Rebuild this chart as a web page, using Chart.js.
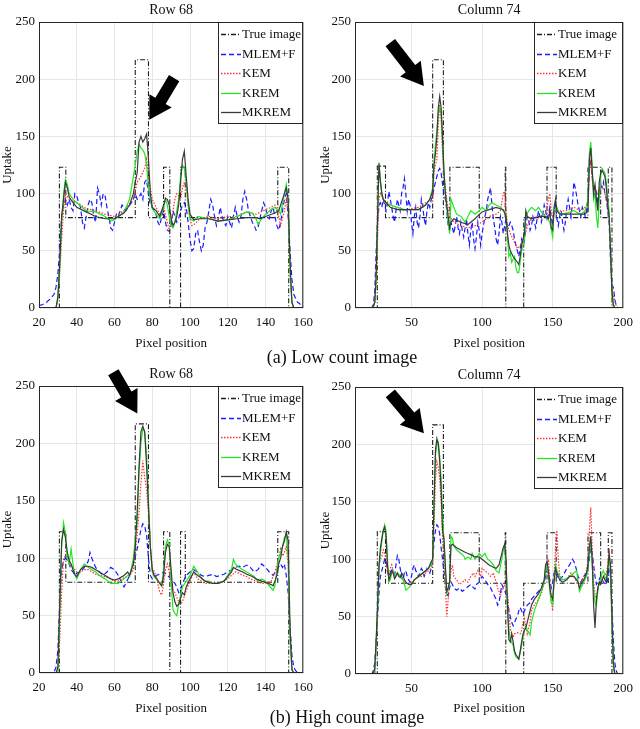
<!DOCTYPE html>
<html>
<head>
<meta charset="utf-8">
<script src="https://cdn.jsdelivr.net/npm/chart.js@4.4.1/dist/chart.umd.min.js"></script>
<style>
  html, body { margin: 0; padding: 0; background: #fff; }
  body { position: relative; width: 640px; height: 729px; overflow: hidden; }
  canvas { position: absolute; }
  .cap { position: absolute; font-family: "Liberation Serif", serif; font-size: 18px; color: #111;
         white-space: nowrap; transform: translateX(-50%); z-index: 2; line-height: 20px; }
</style>
</head>
<body>
<canvas id="c1" width="320" height="350" style="left:0;top:0"></canvas>
<canvas id="c2" width="322" height="350" style="left:318px;top:0"></canvas>
<canvas id="c3" width="320" height="360" style="left:0;top:360px"></canvas>
<canvas id="c4" width="322" height="360" style="left:318px;top:360px"></canvas>
<div class="cap" style="left:342px;top:347px">(a) Low count image</div>
<div class="cap" style="left:347px;top:707px">(b) High count image</div>

<script>
// series names and tick labels
const seriesNames = ["True image", "MLEM+F", "KEM", "KREM", "MKREM"];
const rowTicks = [20, 40, 60, 80, 100, 120, 140, 160];
const colTicks = [50, 100, 150, 200];
const uptakeTicks = [0, 50, 100, 150, 200, 250];

// ground truth profiles, [pixel, uptake]
const rowTrue = [[20,0],[30.8,0],[30.8,123],[34.2,123],[34.2,79],[71,79],[71,217],[78,217],[78,79],[86,79],[86,123],[89.3,123],[89.3,0],[95,0],[95,123],[97.5,123],[97.5,79],[146.5,79],[146.5,123],[152.3,123],[152.3,0],[160,0]];
const colTrue = [[10,0],[25.8,0],[25.8,124],[31.6,124],[31.6,79],[65,79],[65,217],[72.6,217],[72.6,79],[77.2,79],[77.2,123],[98,123],[98,79],[116.4,79],[116.4,123],[116.8,123],[116.8,0],[129.5,0],[129.5,79],[146,79],[146,123],[152.5,123],[152.5,79],[175,79],[175,123],[184,123],[184,79],[189.4,79],[189.4,123],[192,123],[192,0],[200,0]];

// (a) low count, row 68
const lowRowMLEM = [[20,2],[22,3],[24,5],[26,8],[28,12],[29,18],[30,30],[31,50],[32,80],[33,90],[34,95],[35,90],[36,95],[37,88],[38,85],[39,100],[40,98],[41,92],[42,88],[43,75],[44,70],[45,80],[46,90],[47,95],[48,92],[49,80],[50,75],[51,105],[52,100],[53,90],[54,100],[55,98],[56,88],[57,80],[58,70],[59,68],[60,75],[61,82],[62,80],[63,85],[64,90],[65,88],[66,85],[68,90],[69,92],[70,95],[71,100],[72,95],[73,97],[74,100],[75,95],[76,110],[77,112],[78,100],[79,90],[80,88],[81,85],[82,82],[83,75],[84,72],[85,80],[86,85],[87,75],[88,68],[89,67],[90,72],[91,85],[92,80],[93,75],[94,78],[95,85],[96,90],[97,92],[98,88],[99,75],[100,60],[101,50],[102,52],[103,65],[104,68],[105,58],[106,50],[107,55],[108,70],[109,75],[110,85],[111,95],[112,90],[113,80],[114,72],[115,78],[116,88],[117,80],[118,75],[119,72],[120,80],[121,75],[122,70],[123,80],[124,88],[125,80],[126,75],[127,80],[128,95],[129,102],[130,95],[131,85],[132,80],[133,75],[134,72],[135,68],[136,70],[137,78],[138,85],[139,92],[140,88],[141,80],[142,78],[143,85],[144,88],[145,80],[146,72],[147,68],[148,75],[149,85],[150,95],[151,100],[152,80],[153,50],[154,25],[155,12],[156,8],[157,5],[158,4],[159,2],[160,1]];
const lowRowKEM = [[20,0],[29,0],[30,8],[31,30],[32,60],[33,85],[34,100],[35,98],[36,95],[40,92],[45,87],[50,85],[55,82],[60,80],[65,85],[70,95],[72,110],[74,115],[76,122],[77,130],[78,115],[79,105],[80,95],[82,88],[84,82],[86,88],[88,75],[89,68],[90,75],[92,95],[93,100],[94,98],[95,95],[96,105],[97,110],[98,105],[99,90],[100,78],[101,72],[103,74],[105,78],[110,80],[115,78],[120,80],[125,80],[130,84],[135,82],[140,86],[143,88],[145,90],[147,80],[148,72],[150,85],[151,95],[152,85],[153,30],[154,5],[155,0],[160,0]];
const lowRowKREM = [[20,0],[29,0],[30,8],[31,35],[32,75],[33,100],[34,112],[35,108],[36,100],[38,95],[40,92],[45,85],[50,84],[55,80],[58,76],[60,77],[65,84],[68,95],[70,115],[71,125],[72,137],[73,143],[74,140],[75,138],[76,135],[77,125],[78,105],[79,95],[80,87],[82,82],[84,78],[86,88],[87,95],[88,90],[89,80],[90,72],[91,70],[92,75],[94,95],[95,115],[96,125],[97,122],[98,110],[99,90],[100,78],[102,76],[104,80],[110,78],[115,76],[120,77],[125,80],[130,84],[133,83],[135,78],[136,73],[138,78],[140,82],[143,86],[145,88],[147,85],[148,82],[150,100],[151,108],[152,95],[153,30],[154,5],[155,0],[160,0]];
const lowRowMKREM = [[20,0],[29,0],[30,10],[31,40],[32,80],[33,95],[34,110],[35,105],[36,97],[38,92],[40,88],[45,84],[50,80],[55,78],[60,78],[65,83],[68,90],[70,100],[71,110],[72,118],[73,145],[74,150],[75,145],[76,148],[77,152],[78,130],[79,100],[80,88],[82,85],[84,80],[86,90],[87,96],[88,95],[89,90],[90,78],[91,72],[92,75],[93,80],[94,90],[95,110],[96,130],[97,137],[98,115],[99,95],[100,82],[102,77],[105,78],[110,78],[115,76],[120,77],[125,78],[130,79],[135,79],[137,78],[140,80],[145,83],[147,85],[149,95],[150,100],[151,105],[152,95],[153,40],[154,5],[155,0],[160,0]];

// (a) low count, column 74
const lowColMLEM = [[10,0],[22,0],[23,3],[24,15],[25,50],[26,75],[27,90],[28,92],[29,88],[30,95],[31,90],[32,85],[33,92],[34,102],[35,95],[36,88],[37,80],[38,75],[39,85],[40,95],[41,90],[42,85],[43,100],[44,105],[45,113],[46,100],[47,85],[48,95],[49,90],[50,75],[51,65],[52,80],[53,88],[54,75],[55,70],[56,80],[57,95],[58,88],[59,78],[60,72],[61,85],[62,92],[63,88],[64,95],[65,98],[66,105],[67,110],[68,115],[69,120],[70,122],[71,118],[72,108],[73,100],[74,95],[75,85],[76,72],[77,68],[78,75],[79,70],[80,65],[81,72],[82,80],[83,70],[84,65],[85,75],[86,68],[87,62],[88,70],[89,78],[90,65],[91,55],[92,68],[93,75],[94,60],[95,52],[96,62],[97,75],[98,68],[99,55],[100,65],[101,72],[102,80],[103,85],[104,95],[105,100],[106,105],[107,90],[108,78],[109,70],[110,60],[111,55],[112,65],[113,80],[114,75],[115,65],[116,72],[117,78],[118,70],[119,72],[120,75],[121,72],[122,68],[123,60],[124,55],[125,50],[126,45],[127,52],[128,60],[129,55],[130,58],[131,72],[132,80],[133,78],[134,68],[135,72],[136,80],[137,75],[138,70],[139,78],[140,85],[141,80],[142,75],[143,82],[144,90],[145,85],[146,78],[147,82],[148,88],[149,80],[150,72],[151,85],[152,90],[153,78],[154,72],[155,80],[156,85],[157,75],[158,68],[159,75],[160,88],[161,95],[162,88],[163,80],[164,92],[165,110],[166,105],[167,98],[168,90],[169,85],[170,80],[171,88],[172,85],[173,80],[174,85],[175,95],[176,125],[177,130],[178,115],[179,105],[180,95],[181,100],[182,92],[183,100],[184,108],[185,105],[186,110],[187,100],[188,95],[189,85],[190,75],[191,40],[192,20],[193,18],[194,8],[195,2],[196,0],[200,0]];
const lowColKEM = [[10,0],[23,0],[24,5],[25,20],[26,60],[27,95],[28,100],[30,95],[35,90],[40,88],[45,85],[50,87],[55,88],[60,92],[65,95],[66,120],[68,130],[69,160],[70,178],[71,165],[72,135],[73,115],[75,95],[77,80],[80,75],[85,72],[90,70],[95,72],[100,75],[105,80],[110,82],[113,85],[115,100],[116,102],[117,85],[118,72],[120,65],[122,60],[125,52],[127,55],[130,62],[133,75],[135,78],[140,80],[145,82],[147,95],[148,100],[149,85],[150,80],[152,85],[155,85],[160,85],[165,88],[170,85],[175,90],[176,120],[177,128],[178,112],[180,105],[182,100],[184,108],[186,105],[188,95],[190,80],[191,50],[192,20],[193,10],[195,2],[196,0],[200,0]];
const lowColKREM = [[10,0],[23,0],[24,5],[25,25],[26,80],[27,125],[28,112],[29,100],[30,95],[32,92],[35,90],[40,88],[45,86],[50,86],[55,86],[60,90],[63,95],[65,105],[66,130],[68,155],[69,170],[70,175],[71,170],[72,145],[73,120],[74,100],[75,88],[76,75],[77,65],[78,95],[80,88],[82,82],[85,80],[88,75],[90,80],[92,85],[95,82],[98,85],[100,88],[103,85],[105,90],[107,92],[110,90],[113,88],[115,85],[117,82],[118,62],[119,45],[120,48],[121,40],[123,45],[124,35],[125,31],[126,31],[127,40],[128,50],[130,60],[131,80],[133,85],[135,88],[138,85],[140,88],[143,82],[145,80],[148,75],[150,62],[151,85],[153,88],[155,82],[160,83],[165,85],[170,82],[173,85],[175,95],[176,135],[177,145],[178,125],[179,95],[180,100],[181,80],[182,70],[183,95],[184,115],[185,122],[186,120],[187,118],[188,110],[189,95],[190,85],[191,50],[192,10],[193,0],[200,0]];
const lowColMKREM = [[10,0],[22,0],[23,2],[24,5],[25,30],[26,80],[27,127],[28,110],[29,100],[30,95],[32,92],[35,88],[40,86],[45,86],[50,86],[55,86],[60,90],[63,95],[65,102],[66,125],[67,135],[68,150],[69,175],[70,185],[71,175],[72,150],[73,120],[74,100],[75,90],[76,80],[77,70],[78,75],[80,78],[85,75],[90,73],[95,78],[100,84],[105,86],[110,88],[115,86],[117,80],[118,65],[119,55],[120,50],[122,45],[125,40],[126,38],[127,45],[128,55],[130,65],[131,85],[132,80],[135,78],[140,80],[145,80],[147,78],[148,85],[149,70],[150,68],[151,88],[152,95],[153,85],[155,82],[160,82],[165,82],[170,82],[173,82],[175,85],[176,130],[177,140],[178,120],[179,100],[180,108],[181,95],[182,85],[183,110],[184,118],[185,120],[186,118],[187,115],[188,105],[189,90],[190,80],[191,50],[192,15],[193,3],[194,0],[200,0]];

// (b) high count, row 68
const highRowMLEM = [[20,0],[27,0],[28,1],[29,5],[30,20],[31,60],[32,90],[33,98],[34,100],[35,98],[36,95],[37,90],[38,88],[39,85],[40,87],[42,88],[44,92],[46,97],[47,105],[48,100],[50,92],[52,88],[54,85],[56,88],[58,92],[60,90],[62,85],[64,78],[65,75],[66,78],[68,85],[70,95],[72,108],[74,125],[75,130],[76,128],[77,120],[78,100],[79,85],[80,82],[82,85],[84,86],[86,88],[88,85],[90,82],[92,78],[93,75],[94,70],[95,72],[96,78],[98,85],[100,88],[102,90],[104,88],[106,85],[108,84],[110,85],[112,86],[114,84],[116,85],[118,86],[120,88],[122,90],[124,92],[126,93],[128,92],[130,94],[132,92],[134,88],[136,90],[138,95],[140,92],[142,88],[144,85],[146,90],[148,95],[149,92],[150,95],[151,85],[152,70],[153,40],[154,15],[155,5],[156,2],[157,0],[160,0]];
const highRowKEM = [[20,0],[30,0],[31,30],[32,70],[33,100],[34,102],[35,100],[36,95],[38,92],[40,88],[42,88],[44,90],[46,90],[48,88],[50,86],[52,85],[55,84],[58,82],[60,80],[62,80],[65,83],[68,85],[70,90],[71,105],[72,120],[73,140],[74,165],[75,185],[76,170],[77,160],[78,140],[79,110],[80,92],[82,85],[84,70],[85,68],[86,78],[87,90],[88,95],[89,88],[90,78],[91,72],[92,70],[93,66],[94,62],[95,60],[96,62],[98,72],[100,80],[102,88],[104,82],[106,80],[108,78],[110,78],[115,78],[120,82],[122,85],[124,88],[126,87],[128,85],[130,84],[132,82],[135,80],[138,78],[140,78],[143,80],[145,88],[147,100],[148,108],[149,102],[150,105],[151,110],[152,95],[153,30],[154,3],[155,0],[160,0]];
const highRowKREM = [[20,0],[30,0],[31,50],[32,110],[33,131],[34,122],[35,100],[36,95],[37,108],[38,95],[39,85],[40,82],[42,90],[44,95],[46,92],[48,90],[50,88],[52,85],[55,82],[58,78],[60,78],[62,78],[65,82],[67,85],[68,84],[70,100],[71,118],[72,130],[73,175],[74,200],[75,213],[76,210],[77,190],[78,150],[79,110],[80,88],[81,84],[82,82],[84,78],[85,76],[86,90],[87,110],[88,116],[89,112],[90,80],[91,55],[92,52],[93,50],[94,60],[95,68],[96,75],[98,80],[100,85],[102,93],[104,88],[106,82],[108,80],[110,80],[112,78],[115,78],[118,80],[120,85],[122,90],[123,99],[124,95],[126,92],[128,90],[130,88],[132,86],[134,84],[136,80],[138,82],[140,80],[142,76],[144,72],[145,76],[146,90],[147,100],[148,105],[149,110],[150,118],[151,120],[152,100],[153,30],[154,3],[155,0],[160,0]];
const highRowMKREM = [[20,0],[29,0],[30,5],[31,60],[32,115],[33,125],[34,118],[35,105],[36,98],[37,95],[38,90],[39,86],[40,84],[42,90],[44,93],[46,93],[48,92],[50,90],[52,88],[55,85],[58,82],[60,81],[62,82],[65,85],[67,88],[68,85],[70,95],[71,110],[72,140],[73,180],[74,210],[75,215],[76,210],[77,180],[78,145],[79,110],[80,90],[81,85],[82,83],[84,78],[85,76],[86,85],[87,105],[88,112],[89,110],[90,90],[91,70],[92,62],[93,58],[94,60],[95,65],[96,70],[97,68],[98,75],[100,82],[102,88],[104,85],[106,83],[108,80],[110,79],[112,78],[115,78],[118,80],[120,84],[122,88],[123,92],[125,90],[128,88],[130,86],[133,84],[135,82],[138,80],[140,79],[143,77],[144,76],[145,80],[146,85],[147,95],[148,100],[149,110],[150,115],[151,123],[152,115],[153,40],[154,3],[155,0],[160,0]];

// (b) high count, column 74
const highColMLEM = [[10,0],[22,0],[23,3],[24,10],[25,30],[26,50],[27,70],[28,85],[29,90],[30,95],[31,100],[32,98],[33,90],[34,85],[35,88],[36,92],[37,88],[38,85],[39,95],[40,103],[41,100],[42,92],[43,85],[44,82],[45,88],[46,90],[47,85],[48,82],[49,80],[50,85],[51,92],[52,95],[53,90],[54,88],[55,85],[56,88],[57,92],[58,90],[59,85],[60,88],[61,92],[62,90],[63,88],[64,92],[65,100],[66,115],[67,125],[68,130],[69,128],[70,122],[71,110],[72,100],[73,90],[74,78],[75,70],[76,68],[77,75],[78,80],[79,78],[80,75],[82,73],[84,75],[86,72],[88,74],[90,76],[92,78],[94,75],[95,74],[96,78],[98,80],[100,85],[102,82],[104,78],[106,75],[108,70],[110,65],[111,60],[112,62],[113,70],[114,78],[115,75],[116,72],[117,70],[118,65],[119,55],[120,50],[121,45],[122,42],[123,45],[124,48],[125,50],[126,55],[127,58],[128,55],[129,52],[130,55],[132,60],[134,62],[135,65],[137,68],[140,72],[142,75],[144,80],[145,85],[146,90],[147,88],[148,82],[149,75],[150,80],[151,88],[152,90],[153,85],[155,82],[157,85],[160,92],[162,95],[164,100],[165,98],[166,95],[167,90],[168,85],[170,80],[172,85],[174,88],[175,92],[176,100],[177,110],[178,105],[179,95],[180,85],[181,78],[182,80],[184,85],[186,80],[188,78],[189,82],[190,90],[191,85],[192,60],[193,30],[194,10],[195,3],[196,0],[200,0]];
const highColKEM = [[10,0],[24,0],[25,25],[26,60],[27,95],[28,100],[29,102],[30,108],[31,105],[32,100],[33,88],[34,85],[35,92],[36,95],[37,90],[38,85],[40,88],[42,85],[45,80],[48,78],[50,80],[52,82],[55,85],[58,85],[60,88],[62,90],[64,92],[65,95],[66,130],[67,170],[68,185],[69,180],[70,170],[71,150],[72,120],[73,100],[74,75],[75,50],[76,65],[77,80],[78,90],[79,95],[80,85],[82,82],[84,78],[86,80],[88,82],[90,80],[92,85],[94,88],[95,85],[97,90],[99,86],[100,92],[102,90],[104,88],[106,85],[108,88],[110,80],[111,75],[112,72],[113,68],[114,72],[115,75],[116,78],[117,75],[118,70],[119,55],[120,40],[121,35],[122,32],[123,35],[125,36],[127,35],[128,38],[129,45],[130,48],[131,42],[132,35],[134,45],[135,55],[137,60],[140,65],[142,70],[144,80],[145,90],[146,95],[147,100],[148,80],[149,65],[150,55],[151,85],[152,110],[153,125],[154,100],[155,85],[157,82],[160,83],[163,88],[165,85],[167,80],[168,78],[170,80],[172,85],[174,90],[175,100],[176,125],[177,145],[178,110],[179,80],[180,70],[181,65],[182,75],[184,80],[186,85],[188,88],[189,95],[190,105],[191,90],[192,50],[193,10],[194,0],[200,0]];
const highColKREM = [[10,0],[24,0],[25,25],[26,55],[27,90],[28,105],[29,115],[30,125],[31,130],[32,125],[33,100],[34,80],[35,82],[36,88],[37,90],[38,85],[40,88],[42,85],[44,82],[45,78],[46,73],[48,75],[50,78],[52,82],[55,85],[58,88],[60,90],[62,92],[64,95],[65,100],[66,145],[67,190],[68,200],[69,202],[70,190],[71,170],[72,140],[73,115],[74,90],[75,70],[76,73],[77,80],[78,120],[79,118],[80,112],[82,108],[85,105],[87,103],[88,100],[90,102],[92,100],[93,105],[95,100],[98,105],[100,102],[102,105],[104,100],[106,98],[108,95],[110,90],[112,88],[114,100],[115,108],[116,110],[117,95],[118,55],[119,40],[120,30],[122,25],[123,18],[124,15],[125,14],[126,13],[127,18],[128,25],[129,32],[130,38],[131,42],[132,38],[133,36],[134,34],[135,45],[137,55],[140,65],[142,72],[144,80],[145,92],[146,95],[147,85],[148,72],[149,62],[150,60],[151,82],[152,95],[153,90],[155,85],[157,82],[160,83],[162,85],[165,88],[167,90],[168,80],[169,72],[170,75],[172,80],[174,85],[175,92],[176,105],[177,118],[178,95],[179,75],[180,62],[181,60],[182,72],[183,80],[184,82],[185,88],[186,90],[187,85],[188,82],[189,92],[190,100],[191,90],[192,40],[193,5],[194,0],[200,0]];
const highColMKREM = [[10,0],[23,0],[24,5],[25,30],[26,60],[27,95],[28,110],[29,118],[30,125],[31,128],[32,120],[33,95],[34,82],[35,85],[36,90],[37,88],[38,83],[39,85],[40,88],[41,85],[42,84],[43,88],[44,86],[45,82],[46,80],[48,78],[50,78],[52,82],[55,85],[58,88],[60,90],[62,92],[63,95],[64,98],[65,100],[66,150],[67,195],[68,205],[69,200],[70,185],[71,160],[72,125],[73,118],[74,95],[75,72],[76,75],[77,80],[78,112],[79,113],[80,112],[82,110],[85,108],[88,106],[90,105],[92,104],[95,102],[98,102],[100,100],[102,98],[105,95],[108,93],[110,92],[112,95],[114,105],[115,110],[116,113],[117,100],[118,60],[119,30],[120,28],[121,35],[122,28],[123,20],[124,17],[125,15],[126,13],[127,20],[128,28],[129,35],[130,38],[131,40],[133,50],[135,60],[137,65],[140,70],[142,75],[144,82],[145,95],[146,98],[147,90],[148,75],[149,68],[150,65],[151,80],[152,92],[153,88],[155,82],[157,80],[160,82],[162,85],[165,85],[167,82],[168,80],[169,75],[170,78],[172,82],[174,88],[175,95],[176,110],[177,120],[178,100],[179,60],[180,40],[181,65],[182,75],[183,80],[184,78],[185,82],[186,85],[187,82],[188,80],[189,90],[190,105],[191,95],[192,50],[193,10],[194,0],[200,0]];

// line styles per method
const styles = [
  { color: "#1e1e1e", dash: [5, 2, 1, 2], width: 1.1 },
  { color: "#1a1aff", dash: [5, 3], width: 1.2 },
  { color: "#ff3030", dash: [1.5, 1.5], width: 1.2 },
  { color: "#22e622", dash: [], width: 1.2 },
  { color: "#3a3a3a", dash: [], width: 1.2 }
];

const FONT = '"Liberation Serif", "Times New Roman", serif';

const decor = {
  id: "decor",
  afterDraw(chart, args, o) {
    const { ctx, chartArea: a, scales } = chart;
    ctx.save();
    ctx.strokeStyle = "#262626";
    ctx.lineWidth = 1;
    ctx.setLineDash([]);
    ctx.strokeRect(a.left + 0.5, a.top + 0.5, a.right - a.left - 1, a.bottom - a.top - 1);

    ctx.fillStyle = "#111";
    ctx.textAlign = "center";
    ctx.textBaseline = "middle";
    ctx.font = "14px " + FONT;
    ctx.fillText(o.title, (a.left + a.right) / 2, a.top - 12);
    ctx.font = "13px " + FONT;
    ctx.fillText("Pixel position", (a.left + a.right) / 2, o.xTitleY);
    ctx.save();
    ctx.translate(8, (a.top + a.bottom) / 2);
    ctx.rotate(-Math.PI / 2);
    ctx.fillText("Uptake", 0, 0);
    ctx.restore();

    // legend box in the upper right corner
    const w = o.legendW, h = 102;
    const x0 = Math.round(a.right - w), y0 = Math.round(a.top);
    ctx.fillStyle = "#fff";
    ctx.fillRect(x0, y0, w, h);
    ctx.strokeStyle = "#262626";
    ctx.strokeRect(x0 + 0.5, y0 + 0.5, w - 1, h - 1);
    ctx.textAlign = "left";
    ctx.font = "13px " + FONT;
    chart.data.datasets.forEach((ds, i) => {
      const y = Math.round(y0 + 12 + i * 19.5) + 0.5;
      ctx.strokeStyle = ds.borderColor;
      ctx.lineWidth = 1.3;
      ctx.setLineDash(ds.borderDash);
      ctx.beginPath();
      ctx.moveTo(x0 + 3, y);
      ctx.lineTo(x0 + 23, y);
      ctx.stroke();
      ctx.setLineDash([]);
      ctx.fillStyle = "#111";
      ctx.fillText(ds.label, x0 + 24, y + 0.5);
    });

    // black annotation arrow
    const [p, q] = o.arrow;
    const x1 = scales.x.getPixelForValue(p[0]), y1 = scales.y.getPixelForValue(p[1]);
    const x2 = scales.x.getPixelForValue(q[0]), y2 = scales.y.getPixelForValue(q[1]);
    const len = Math.hypot(x2 - x1, y2 - y1);
    const ux = (x2 - x1) / len, uy = (y2 - y1) / len;
    const nx = -uy, ny = ux;
    const sw = 6, hw = 13, hl = 22;
    const bx = x2 - ux * hl, by = y2 - uy * hl;
    ctx.fillStyle = "#000";
    ctx.beginPath();
    ctx.moveTo(x1 + nx * sw, y1 + ny * sw);
    ctx.lineTo(bx + nx * sw, by + ny * sw);
    ctx.lineTo(bx + nx * hw, by + ny * hw);
    ctx.lineTo(x2, y2);
    ctx.lineTo(bx - nx * hw, by - ny * hw);
    ctx.lineTo(bx - nx * sw, by - ny * sw);
    ctx.lineTo(x1 - nx * sw, y1 - ny * sw);
    ctx.closePath();
    ctx.fill();
    ctx.restore();
  }
};

function makeChart(id, cfg) {
  const datasets = cfg.series.map((s, i) => ({
    label: seriesNames[i],
    data: s.map(([x, y]) => ({ x, y })),
    borderColor: styles[i].color,
    borderDash: styles[i].dash,
    borderWidth: styles[i].width,
    pointRadius: 0,
    tension: 0,
    fill: false,
    order: 5 - i
  }));
  return new Chart(document.getElementById(id), {
    type: "line",
    data: { datasets },
    plugins: [decor],
    options: {
      responsive: false,
      animation: false,
      events: [],
      layout: { padding: { top: cfg.padTop, right: cfg.padRight, left: 0, bottom: 0 } },
      plugins: {
        legend: { display: false },
        tooltip: { enabled: false },
        decor: { title: cfg.title, xTitleY: cfg.xTitleY, legendW: cfg.legendW, arrow: cfg.arrow }
      },
      scales: {
        x: {
          type: "linear",
          min: cfg.xMin,
          max: cfg.xMax,
          afterBuildTicks: (s) => { s.ticks = cfg.xTicks.map((v) => ({ value: v })); },
          afterFit: (s) => { s.height = cfg.xAxisH; },
          grid: { color: "#e6e6e6", drawTicks: false },
          border: { display: false },
          ticks: { padding: 7, maxRotation: 0, color: "#111", font: { family: FONT, size: 13 } }
        },
        y: {
          min: 0,
          max: 250,
          afterBuildTicks: (s) => { s.ticks = uptakeTicks.map((v) => ({ value: v })); },
          afterFit: (s) => { s.width = cfg.yAxisW; },
          grid: { color: "#e6e6e6", drawTicks: false },
          border: { display: false },
          ticks: { padding: 4, color: "#111", font: { family: FONT, size: 13 } }
        }
      }
    }
  });
}

makeChart("c1", {
  title: "Row 68", series: [rowTrue, lowRowMLEM, lowRowKEM, lowRowKREM, lowRowMKREM],
  xMin: 20, xMax: 160, xTicks: rowTicks, padTop: 22, padRight: 5, yAxisW: 39, xAxisH: 42,
  xTitleY: 344, legendW: 85, arrow: [[91.6, 201], [78.4, 164.6]]
});
makeChart("c2", {
  title: "Column 74", series: [colTrue, lowColMLEM, lowColKEM, lowColKREM, lowColMKREM],
  xMin: 10, xMax: 200, xTicks: colTicks, padTop: 22, padRight: 9, yAxisW: 37, xAxisH: 42,
  xTitleY: 344, legendW: 89, arrow: [[35, 232], [58.8, 194]]
});
makeChart("c3", {
  title: "Row 68", series: [rowTrue, highRowMLEM, highRowKEM, highRowKREM, highRowMKREM],
  xMin: 20, xMax: 160, xTicks: rowTicks, padTop: 26, padRight: 5, yAxisW: 39, xAxisH: 47,
  xTitleY: 349, legendW: 85, arrow: [[59.4, 262], [72.1, 226]]
});
makeChart("c4", {
  title: "Column 74", series: [colTrue, highColMLEM, highColKEM, highColKREM, highColMKREM],
  xMin: 10, xMax: 200, xTicks: colTicks, padTop: 27, padRight: 9, yAxisW: 37, xAxisH: 46,
  xTitleY: 349, legendW: 89, arrow: [[35, 244.5], [58.8, 209.7]]
});
</script>
</body>
</html>
